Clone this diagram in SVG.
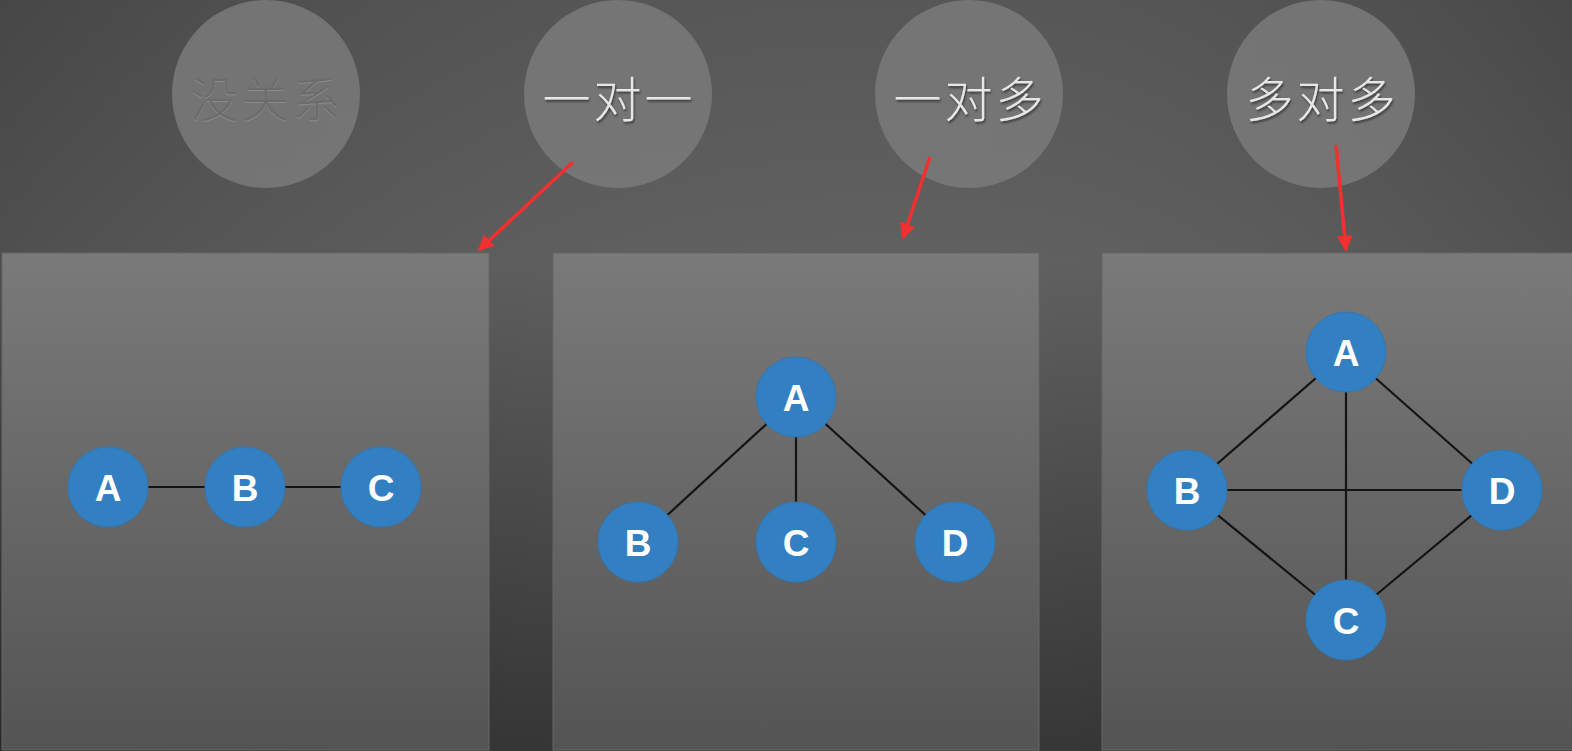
<svg xmlns="http://www.w3.org/2000/svg" width="1572" height="751" viewBox="0 0 1572 751">
<defs>
<linearGradient id="bg" x1="0" y1="0" x2="0" y2="1">
<stop offset="0" stop-color="#505050"/><stop offset="0.35" stop-color="#5a5a5a"/><stop offset="1" stop-color="#2e2e2e"/>
</linearGradient>
<linearGradient id="bgx" x1="0" y1="0" x2="1" y2="0">
<stop offset="0" stop-color="#000" stop-opacity="0.12"/><stop offset="0.6" stop-color="#fff" stop-opacity="0.04"/><stop offset="1" stop-color="#000" stop-opacity="0.1"/>
</linearGradient>
<linearGradient id="panel" x1="0" y1="0" x2="0" y2="1">
<stop offset="0" stop-color="#7a7a7a"/><stop offset="1" stop-color="#545454"/>
</linearGradient>
<marker id="ah" viewBox="0 0 10 10" refX="9" refY="5" markerWidth="5" markerHeight="4.5" orient="auto" markerUnits="strokeWidth">
<path d="M0,0 L10,5 L0,10 Z" fill="#f23030"/>
</marker>
<filter id="sh" x="-20%" y="-20%" width="140%" height="140%">
<feDropShadow dx="1" dy="2" stdDeviation="1.2" flood-color="#000" flood-opacity="0.5"/>
</filter>
<filter id="emb" x="-20%" y="-20%" width="140%" height="140%">
<feDropShadow dx="0" dy="1" stdDeviation="0.4" flood-color="#8e8e8e" flood-opacity="0.9"/>
</filter>
</defs>
<style>
.top{fill:#7a7a7a;fill-opacity:0.85}
.toptxt{font-family:"Noto Sans CJK SC",sans-serif;font-weight:300;font-size:48px;letter-spacing:3px;fill:#e6e6e6;text-anchor:middle;dominant-baseline:central;filter:url(#sh)}
.faded{fill:#6c6c6c;filter:url(#emb)}
.node{fill:#3280c2;stroke:#2f78b6;stroke-width:1}
.lbl{font-family:"Liberation Sans",Arial,sans-serif;font-weight:bold;font-size:37px;fill:#fff;text-anchor:middle;dominant-baseline:central}
.edge{stroke:#141414;stroke-width:2.2;fill:none}
.arr{stroke:#f23030;stroke-width:3.5;fill:none}
</style>
<rect width="1572" height="751" fill="url(#bg)"/>
<rect width="1572" height="751" fill="url(#bgx)"/>

<g id="panels">
<rect x="2" y="253" width="487" height="497" fill="url(#panel)" stroke="#666" stroke-width="1"/>
<rect x="553" y="253" width="486" height="497" fill="url(#panel)" stroke="#666" stroke-width="1"/>
<rect x="1102" y="253" width="472" height="497" fill="url(#panel)" stroke="#666" stroke-width="1"/>
</g>

<g id="t-none"><circle class="top" cx="266" cy="94" r="94"/><text class="toptxt faded" x="267" y="96">没关系</text></g>
<g id="t-11"><circle class="top" cx="618" cy="94" r="94"/><text class="toptxt" x="619" y="96">一对一</text></g>
<g id="t-1n"><circle class="top" cx="969" cy="94" r="94"/><text class="toptxt" x="970" y="96">一对多</text></g>
<g id="t-nn"><circle class="top" cx="1321" cy="94" r="94"/><text class="toptxt" x="1322" y="96">多对多</text></g>

<g id="connectors">
<line class="arr" x1="573" y1="162" x2="479" y2="250" marker-end="url(#ah)"/>
<line class="arr" x1="930" y1="157" x2="903" y2="238" marker-end="url(#ah)"/>
<line class="arr" x1="1336" y1="145" x2="1346" y2="250" marker-end="url(#ah)"/>
<line class="edge" x1="108" y1="487" x2="381" y2="487"/>
<line class="edge" x1="796" y1="397" x2="638" y2="542"/>
<line class="edge" x1="796" y1="397" x2="796" y2="542"/>
<line class="edge" x1="796" y1="397" x2="955" y2="542"/>
<line class="edge" x1="1346" y1="352" x2="1187" y2="490"/>
<line class="edge" x1="1346" y1="352" x2="1502" y2="490"/>
<line class="edge" x1="1346" y1="352" x2="1346" y2="620"/>
<line class="edge" x1="1187" y1="490" x2="1502" y2="490"/>
<line class="edge" x1="1187" y1="490" x2="1346" y2="620"/>
<line class="edge" x1="1502" y1="490" x2="1346" y2="620"/>
</g>

<g id="p1-A"><circle class="node" cx="108" cy="487" r="40"/><text class="lbl" x="108" y="488">A</text></g>
<g id="p1-B"><circle class="node" cx="245" cy="487" r="40"/><text class="lbl" x="245" y="488">B</text></g>
<g id="p1-C"><circle class="node" cx="381" cy="487" r="40"/><text class="lbl" x="381" y="488">C</text></g>

<g id="p2-A"><circle class="node" cx="796" cy="397" r="40"/><text class="lbl" x="796" y="398">A</text></g>
<g id="p2-B"><circle class="node" cx="638" cy="542" r="40"/><text class="lbl" x="638" y="543">B</text></g>
<g id="p2-C"><circle class="node" cx="796" cy="542" r="40"/><text class="lbl" x="796" y="543">C</text></g>
<g id="p2-D"><circle class="node" cx="955" cy="542" r="40"/><text class="lbl" x="955" y="543">D</text></g>

<g id="p3-A"><circle class="node" cx="1346" cy="352" r="40"/><text class="lbl" x="1346" y="353">A</text></g>
<g id="p3-B"><circle class="node" cx="1187" cy="490" r="40"/><text class="lbl" x="1187" y="491">B</text></g>
<g id="p3-C"><circle class="node" cx="1346" cy="620" r="40"/><text class="lbl" x="1346" y="621">C</text></g>
<g id="p3-D"><circle class="node" cx="1502" cy="490" r="40"/><text class="lbl" x="1502" y="491">D</text></g>
</svg>
